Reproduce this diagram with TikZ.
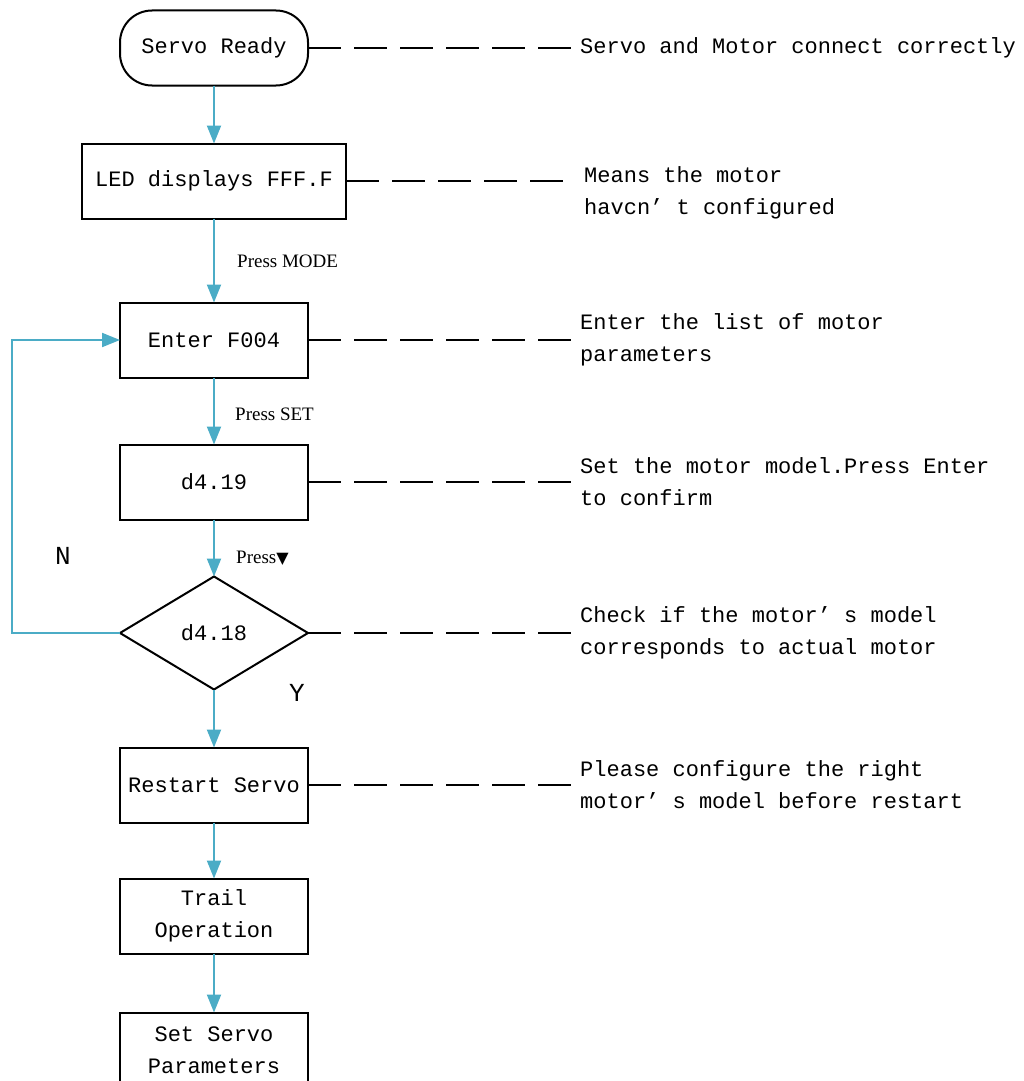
\documentclass[tikz,border=0pt]{standalone}
\usepackage{fontspec}
\setmainfont{Liberation Mono}
\newfontfamily\hintfont{Liberation Serif}
\newfontfamily\symfont{DejaVu Sans}
\usepackage{xcolor}
\usetikzlibrary{arrows.meta,shapes.geometric}
\definecolor{flowblue}{RGB}{75,172,198}
\tikzset{
	block/.style={
			draw, line width=2pt, minimum width=188pt, minimum height=75pt,
			inner sep=0pt, outer sep=0pt, align=center,
			font=\fontsize{22}{32}\selectfont},
	start/.style={block, rounded corners=32pt},
	decide/.style={block, diamond, minimum height=113pt, aspect=1.66},
	note/.style={anchor=west, inner ysep=0pt, inner xsep=6pt, align=left,
			font=\fontsize{22}{32}\selectfont},
	hint/.style={anchor=west, inner sep=0pt, font=\hintfont\fontsize{19}{22}\selectfont},
	flow/.style={draw=flowblue, line width=2pt, -{Triangle[length=18pt, width=14pt]}},
	link/.style={draw, line width=2pt, dash pattern=on 33pt off 13pt}
}

\begin{document}
\begin{tikzpicture}[x=1pt, y=-1pt]
		\useasboundingbox (0,0) rectangle (1024,1081);
		\node[start] (ready) at (214,48) {Servo Ready};
		\node[block, minimum width=264pt] (led) at (214,181) {LED displays FFF.F};
		\node[block] (f004) at (214,340) {Enter F004};
		\node[block] (d419) at (214,482) {d4.19};
		\node[decide] (d418) at (214,633) {d4.18};
		\node[block] (restart) at (214,785) {Restart Servo};
		\node[block] (trail) at (214,916) {Trail\\Operation};
		\node[block] (param) at (214,1050) {Set Servo\\Parameters};

		\node[note] (n1) at (574,48) {Servo and Motor connect correctly};
		\node[note, inner xsep=16pt] (n2) at (568,193) {Means the motor\\havcn’ t configured};
		\node[note] (n3) at (574,340) {Enter the list of motor\\parameters};
		\node[note] (n4) at (574,482) {Set the motor model.Press Enter\\to confirm};
		\node[note] (n5) at (574,633) {Check if the motor’ s model\\corresponds to actual motor};
		\node[note] (n6) at (574,785) {Please configure the right\\motor’ s model before restart};

		\node[hint] (pmode) at (237,261) {Press MODE};
		\node[hint] (pset) at (235,414) {Press SET};
		\node[hint] (pdown) at (236,558) {Press{\symfont\fontsize{16}{16}\selectfont ▼}};
		\node[font=\fontsize{26}{26}\selectfont] (no) at (63,556) {N};
		\node[font=\fontsize{26}{26}\selectfont] (yes) at (297,693) {Y};

		\draw[flow] (ready) -- (led);
		\draw[flow] (led) -- (f004);
		\draw[flow] (f004) -- (d419);
		\draw[flow] (d419) -- (d418);
		\draw[flow] (d418) -- (restart);
		\draw[flow] (restart) -- (trail);
		\draw[flow] (trail) -- (param);
		\coordinate (back) at (12,633);
		\draw[flow] (d418.west) -- (back) |- (f004.west);

		\draw[link] (ready.east) -- (ready.east -| n1.west);
		\draw[link] (led.east) -- (led.east -| n2.west);
		\draw[link] (f004.east) -- (f004.east -| n3.west);
		\draw[link] (d419.east) -- (d419.east -| n4.west);
		\draw[link] (d418.east) -- (d418.east -| n5.west);
		\draw[link] (restart.east) -- (restart.east -| n6.west);
	\end{tikzpicture}
\end{document}
